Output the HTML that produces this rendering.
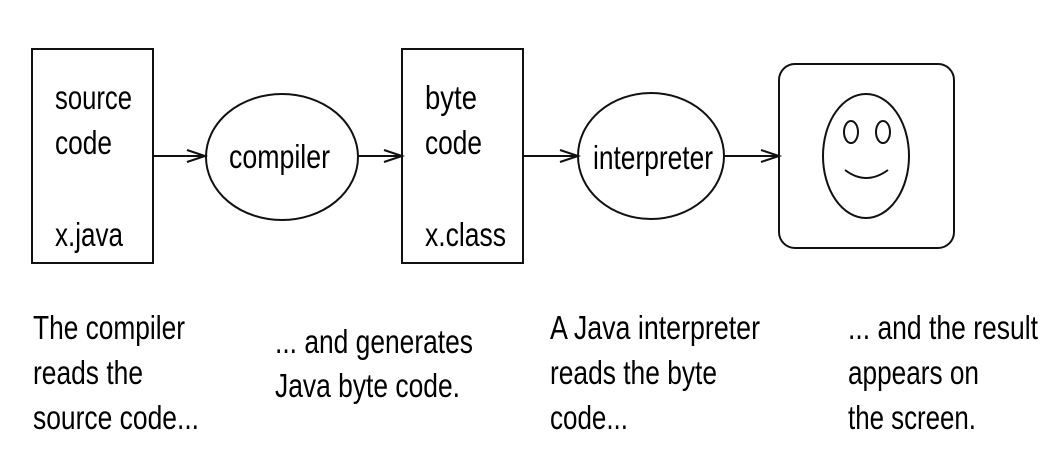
<!DOCTYPE html>
<html><head><style>html,body{margin:0;padding:0;background:#fff}</style></head>
<body>
<svg width="1049" height="444" xmlns="http://www.w3.org/2000/svg" font-family="Liberation Sans, sans-serif" font-size="33" fill="#000">
<g fill="none" stroke="#111" stroke-width="2">
<rect x="32" y="49" width="121" height="214"/>
<rect x="402" y="49" width="121" height="214"/>
<ellipse cx="282" cy="157" rx="76" ry="63"/>
<ellipse cx="651" cy="156" rx="73" ry="63"/>
<rect x="779" y="64" width="175" height="184" rx="16"/>
<ellipse cx="866" cy="156" rx="43" ry="62"/>
<ellipse cx="851" cy="132" rx="7" ry="11"/>
<ellipse cx="883" cy="132" rx="7" ry="11"/>
<path d="M845,170 Q866,186 888,170"/>
<line x1="153" y1="156" x2="205" y2="156"/>
<polyline points="187,150 205,156 187,162"/>
<line x1="359" y1="156" x2="402" y2="156"/>
<polyline points="384,150 402,156 384,162"/>
<line x1="523" y1="156" x2="578" y2="156"/>
<polyline points="560,150 578,156 560,162"/>
<line x1="724" y1="156" x2="779" y2="156"/>
<polyline points="761,150 779,156 761,162"/>
</g>
<g stroke="none">
<text x="55" y="109" textLength="77" lengthAdjust="spacingAndGlyphs">source</text>
<text x="55" y="154" textLength="57" lengthAdjust="spacingAndGlyphs">code</text>
<text x="55" y="246" textLength="68" lengthAdjust="spacingAndGlyphs">x.java</text>
<text x="229" y="168" textLength="101" lengthAdjust="spacingAndGlyphs">compiler</text>
<text x="425" y="109" textLength="52" lengthAdjust="spacingAndGlyphs">byte</text>
<text x="425" y="154" textLength="57" lengthAdjust="spacingAndGlyphs">code</text>
<text x="425" y="246" textLength="81" lengthAdjust="spacingAndGlyphs">x.class</text>
<text x="593" y="169" textLength="120" lengthAdjust="spacingAndGlyphs">interpreter</text>
<text x="33" y="339" textLength="152" lengthAdjust="spacingAndGlyphs">The compiler</text>
<text x="33" y="384" textLength="110" lengthAdjust="spacingAndGlyphs">reads the</text>
<text x="33" y="429" textLength="166" lengthAdjust="spacingAndGlyphs">source code...</text>
<text x="275" y="353" textLength="198" lengthAdjust="spacingAndGlyphs">... and generates</text>
<text x="275" y="397" textLength="185" lengthAdjust="spacingAndGlyphs">Java byte code.</text>
<text x="550" y="339" textLength="210" lengthAdjust="spacingAndGlyphs">A Java interpreter</text>
<text x="550" y="384" textLength="167" lengthAdjust="spacingAndGlyphs">reads the byte</text>
<text x="550" y="429" textLength="78" lengthAdjust="spacingAndGlyphs">code...</text>
<text x="848" y="339" textLength="190" lengthAdjust="spacingAndGlyphs">... and the result</text>
<text x="848" y="384" textLength="131" lengthAdjust="spacingAndGlyphs">appears on</text>
<text x="848" y="429" textLength="128" lengthAdjust="spacingAndGlyphs">the screen.</text>
</g>
</svg>
</body></html>
